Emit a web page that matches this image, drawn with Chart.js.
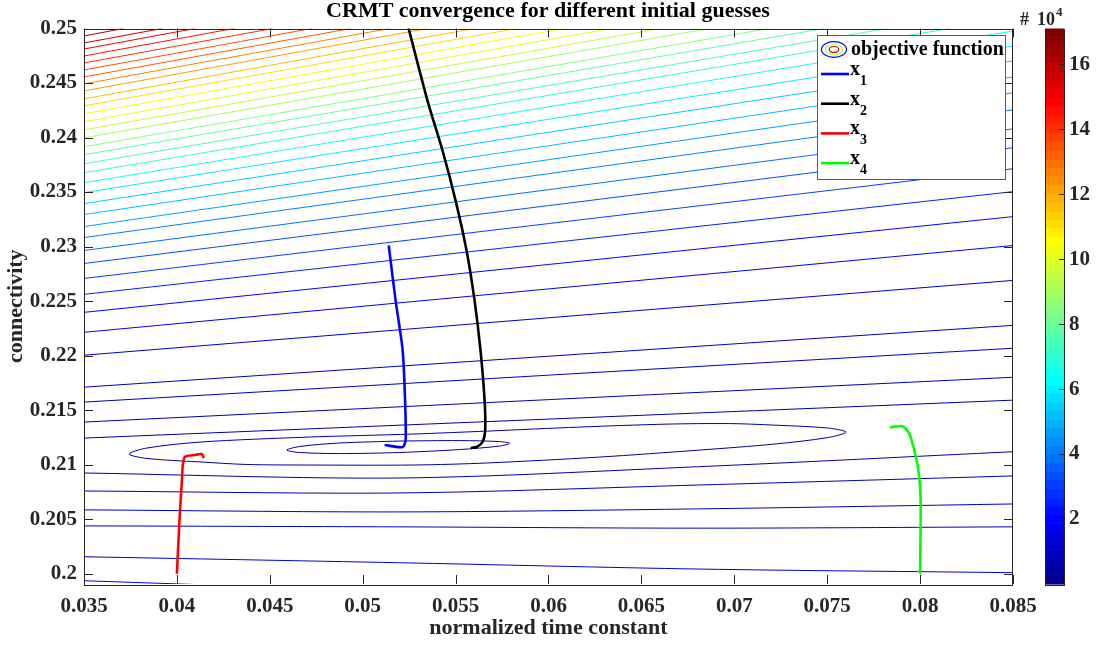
<!DOCTYPE html>
<html><head><meta charset="utf-8">
<script src="https://cdn.jsdelivr.net/npm/chart.js@4/dist/chart.umd.min.js"></script>
<style>html,body{margin:0;padding:0;background:#fff}#wrap{width:1096px;height:647px;position:relative}</style>
</head><body><div id="wrap"><canvas id="c" width="1096" height="647"></canvas></div>
<script>
// ---- axis ticks ----
const xTickVals = [0.035,0.04,0.045,0.05,0.055,0.06,0.065,0.07,0.075,0.08,0.085];
const xTickText = ['0.035','0.04','0.045','0.05','0.055','0.06','0.065','0.07','0.075','0.08','0.085'];
const yTickVals = [0.2,0.205,0.21,0.215,0.22,0.225,0.23,0.235,0.24,0.245,0.25];
const yTickText = ['0.2','0.205','0.21','0.215','0.22','0.225','0.23','0.235','0.24','0.245','0.25'];
const cbTickVals = [20000,40000,60000,80000,100000,120000,140000,160000];
const cbTickText = ['2','4','6','8','10','12','14','16'];
const xRange = [0.035, 0.085];
const yRange = [0.19906, 0.25];
const cRange = [0, 171000];

// ---- contour lines of the objective function (level, x points, y points) ----
const contourLevel = [
  1500, 3000,
  4500, 4500, 6500, 6500, 8500, 8500, 10500, 10500, 13000, 13000, 17000, 17000,
  21000, 26000, 30000, 34000, 38000, 42000, 46000, 51000, 56000, 61000, 65000,
  70000, 75000, 80000, 85000, 90000, 96000, 101000, 106000, 111000, 116000,
  121000, 126000, 131000, 136000, 141000, 146000, 151000, 156000, 161000
];
const contourX = [
  [0.05199,0.05522,0.05737,0.05790,0.05737,0.05522,0.05199,0.04876,0.04661,0.04591,0.04661,0.04876,0.05199],
  [0.05672,0.06167,0.06634,0.06973,0.07215,0.07505,0.07602,0.07505,0.07215,0.06812,0.06274,0.05672,0.05269,0.04704,0.04376,0.04129,0.03839,0.03742,0.03839,0.04129,0.04704,0.05269,0.05672],
  [0.035,0.085], [0.035,0.05199,0.06812,0.085],
  [0.035,0.085], [0.035,0.05199,0.06812,0.085],
  [0.035,0.085], [0.035,0.05199,0.06812,0.085],
  [0.035,0.085], [0.035,0.05199,0.06812,0.085],
  [0.035,0.085], [0.035,0.05199,0.06812,0.085],
  [0.035,0.085], [0.035,0.0412],
  [0.035,0.085],[0.035,0.085],[0.035,0.085],[0.035,0.085],[0.035,0.085],[0.035,0.085],
  [0.035,0.085],[0.035,0.085],[0.035,0.085],[0.035,0.085],[0.035,0.085],
  [0.035,0.08161],[0.035,0.07823],[0.035,0.07484],[0.035,0.07188],[0.035,0.06866],
  [0.035,0.06602],[0.035,0.06339],[0.035,0.06081],[0.035,0.05828],[0.035,0.05602],
  [0.035,0.05349],[0.035,0.05145],[0.035,0.04935],[0.035,0.04726],[0.035,0.04516],
  [0.035,0.04306],[0.035,0.04097],[0.035,0.03919],[0.035,0.03710]
];
const contourY = [
  [0.21217,0.21221,0.21212,0.21196,0.21171,0.21139,0.21112,0.21102,0.21112,0.21134,0.21167,0.21199,0.21217],
  [0.21308,0.21345,0.21372,0.21377,0.21363,0.21336,0.21299,0.21249,0.21189,0.21134,0.21070,0.21016,0.20997,0.20997,0.21002,0.21025,0.21057,0.21098,0.21153,0.21208,0.21253,0.21281,0.21308],
  [0.21244,0.21592], [0.20924,0.20878,0.20982,0.21119],
  [0.21391,0.21802], [0.20759,0.20741,0.20814,0.20897],
  [0.21574,0.22068], [0.20586,0.20567,0.20595,0.20640],
  [0.21711,0.22278], [0.20439,0.20430,0.20418,0.20430],
  [0.22004,0.22690], [0.20156,0.20101,0.20043,0.20010],
  [0.22214,0.23010], [0.19936,0.19900],
  [0.22397,0.23275],[0.22562,0.23504],[0.22708,0.23714],[0.22845,0.23907],[0.22964,0.24080],[0.23083,0.24254],
  [0.23184,0.24410],[0.23294,0.24556],[0.23394,0.24703],[0.23495,0.24840],[0.23586,0.24977],
  [0.23678,0.25],[0.23760,0.25],[0.23843,0.25],[0.23916,0.25],[0.23998,0.25],
  [0.24071,0.25],[0.24145,0.25],[0.24218,0.25],[0.24291,0.25],[0.24355,0.25],
  [0.24428,0.25],[0.24492,0.25],[0.24556,0.25],[0.24620,0.25],[0.24684,0.25],
  [0.24748,0.25],[0.24812,0.25],[0.24867,0.25],[0.24931,0.25]
];

// ---- CRMT trajectories ----
const x1X = [0.05140,0.05177,0.05215,0.05228,0.05231,0.05215,0.05118];
const x1Y = [0.23010,0.22507,0.22049,0.21592,0.21226,0.21162,0.21180];
const x2X = [0.05237,0.05349,0.05430,0.05500,0.05559,0.05602,0.05634,0.05656,0.05659,0.05645,0.05613,0.05581];
const x2Y = [0.25068,0.24337,0.23879,0.23422,0.22964,0.22507,0.22049,0.21592,0.21317,0.21208,0.21162,0.21153];
const x3X = [0.04000,0.04014,0.04027,0.04032,0.04043,0.04097,0.04134,0.04145];
const x3Y = [0.20000,0.20494,0.20860,0.21000,0.21071,0.21089,0.21098,0.21061];
const x4X = [0.08000,0.08003,0.07995,0.07977,0.07941,0.07902,0.07837];
const x4Y = [0.20000,0.20677,0.20890,0.21073,0.21287,0.21354,0.21342];
const seriesNames = ['x1','x2','x3','x4'];
const seriesColors = ['#0000ff','#000000','#ff0000','#00ff00'];

function jetRGB(idx){
  const u = k => (k < 1 || k > 47) ? 0 : (k <= 16 ? k/16 : (k <= 31 ? 1 : (48-k)/16));
  const r = u(idx-24), g = u(idx-8), b = u(idx+8);
  return 'rgb(' + Math.round(r*255) + ',' + Math.round(g*255) + ',' + Math.round(b*255) + ')';
}
function levelColor(v){
  const idx = Math.max(1, Math.min(64, Math.floor((v-cRange[0])/(cRange[1]-cRange[0])*64) + 1));
  return jetRGB(idx);
}
const pts = (xs, ys) => xs.map((v,i) => ({x: v, y: ys[i]}));

const datasets = [];
[[x1X,x1Y],[x2X,x2Y],[x3X,x3Y],[x4X,x4Y]].forEach((s,i) => {
  datasets.push({label: seriesNames[i], data: pts(s[0], s[1]), showLine: true, borderColor: seriesColors[i],
    borderWidth: 2.6, pointRadius: 0, tension: 0.25, order: 0, clip: 0, borderJoinStyle: 'round'});
});
contourLevel.forEach((lv, i) => {
  datasets.push({label: 'objective function', data: pts(contourX[i], contourY[i]), showLine: true,
    borderColor: levelColor(lv), borderWidth: 1, pointRadius: 0,
    tension: contourX[i].length > 2 ? 0.3 : 0, order: 1, clip: 0});
});

const FONT = "'Liberation Serif','Times New Roman',serif";
const AX = '#262626';

const decor = {
  id: 'decor',
  afterDatasetsDraw(chart){
    const {ctx, chartArea: a, scales: {x, y}} = chart;
    ctx.save();
    ctx.strokeStyle = AX; ctx.lineWidth = 1;
    ctx.beginPath();
    xTickVals.forEach(v => { const p = Math.round(x.getPixelForValue(v)) + 0.5;
      ctx.moveTo(p, a.bottom); ctx.lineTo(p, a.bottom - 9); ctx.moveTo(p, a.top); ctx.lineTo(p, a.top + 9); });
    yTickVals.forEach(v => { const p = Math.round(y.getPixelForValue(v)) + 0.5;
      ctx.moveTo(a.left, p); ctx.lineTo(a.left + 9, p); ctx.moveTo(a.right, p); ctx.lineTo(a.right - 9, p); });
    ctx.stroke();
    ctx.strokeRect(Math.round(a.left) + 0.5, Math.round(a.top) + 0.5, Math.round(a.right - a.left) - 1, Math.round(a.bottom - a.top));
    ctx.restore();
  },
  afterDraw(chart){
    const {ctx, chartArea: a, scales: {cb}} = chart;
    ctx.save();
    // colorbar
    const L = 1045, W = 19;
    for (let i = 0; i < 64; i++) {
      const v0 = cRange[0] + (cRange[1]-cRange[0]) * i / 64, v1 = cRange[0] + (cRange[1]-cRange[0]) * (i+1) / 64;
      const yA = cb.getPixelForValue(v0), yB = cb.getPixelForValue(v1);
      ctx.fillStyle = jetRGB(i+1);
      ctx.fillRect(L, yB, W, yA - yB + 0.6);
    }
    ctx.strokeStyle = AX; ctx.lineWidth = 1;
    ctx.strokeRect(L + 0.5, Math.round(a.top) + 0.5, W, Math.round(a.bottom - a.top));
    ctx.beginPath();
    cbTickVals.forEach(v => { const p = Math.round(cb.getPixelForValue(v)) + 0.5; ctx.moveTo(L + W, p); ctx.lineTo(L + W - 5, p); });
    ctx.stroke();
    ctx.fillStyle = AX; ctx.textBaseline = 'alphabetic'; ctx.textAlign = 'left';
    ctx.font = 'bold 18px ' + FONT;
    ctx.fillText('#', 1020, 25);
    ctx.fillText('10', 1037, 25);
    ctx.font = 'bold 13px ' + FONT;
    ctx.fillText('4', 1056, 16);

    // legend
    const bx = 817, by = 35, bw = 188, bh = 144;
    ctx.fillStyle = '#fff'; ctx.fillRect(bx, by, bw, bh);
    ctx.strokeStyle = '#5a5a5a'; ctx.strokeRect(bx + 0.5, by + 0.5, bw, bh);
    const ecx = 834, ecy = 49.5;
    [[12.5, 7.8, jetRGB(8)], [8.5, 5.2, jetRGB(34)], [4.8, 3, jetRGB(60)]].forEach(e => {
      ctx.beginPath(); ctx.strokeStyle = e[2]; ctx.lineWidth = 1.2;
      ctx.ellipse(ecx, ecy, e[0], e[1], 0, 0, Math.PI * 2); ctx.stroke();
    });
    ctx.fillStyle = '#000'; ctx.font = 'bold 20px ' + FONT; ctx.textBaseline = 'middle';
    ctx.fillText('objective function', 851, 50);
    ctx.textBaseline = 'alphabetic';
    seriesNames.forEach((n, i) => {
      const ly = 74 + i * 29.7;
      ctx.strokeStyle = seriesColors[i]; ctx.lineWidth = 2.6;
      ctx.beginPath(); ctx.moveTo(821, ly); ctx.lineTo(849, ly); ctx.stroke();
      ctx.fillStyle = '#000';
      ctx.font = 'bold 20px ' + FONT; ctx.fillText(n.charAt(0), 850, ly + 1);
      ctx.font = 'bold 14px ' + FONT; ctx.fillText(n.slice(1), 860, ly + 11);
    });
    ctx.restore();
  }
};

new Chart(document.getElementById('c'), {
  type: 'scatter',
  data: {datasets},
  options: {
    responsive: false, animation: false, devicePixelRatio: 1,
    layout: {padding: 0},
    plugins: {
      legend: {display: false}, tooltip: {enabled: false},
      title: {display: true, text: 'CRMT convergence for different initial guesses', color: '#000',
        font: {family: FONT, size: 22, weight: 'bold', lineHeight: 1.0}, padding: {top: 0, bottom: 6.5}}
    },
    scales: {
      x: {type: 'linear', position: 'bottom', min: xRange[0], max: xRange[1],
        afterBuildTicks: s => { s.ticks = xTickVals.map(v => ({value: v})); },
        afterFit: s => { s.height = 63; },
        grid: {display: false, drawTicks: false}, border: {display: false},
        ticks: {callback: v => xTickText[xTickVals.indexOf(v)], autoSkip: false, maxRotation: 0, minRotation: 0,
          padding: 10, color: AX, font: {family: FONT, size: 21, weight: 'bold'}},
        title: {display: true, text: 'normalized time constant', color: AX, padding: {top: 0, bottom: 5},
          font: {family: FONT, size: 22, weight: 'bold', lineHeight: 1.2}}},
      y: {type: 'linear', position: 'left', min: yRange[0], max: yRange[1],
        afterBuildTicks: s => { s.ticks = yTickVals.map(v => ({value: v})); },
        afterFit: s => { s.width = 84; },
        grid: {display: false, drawTicks: false}, border: {display: false},
        ticks: {callback: v => yTickText[yTickVals.indexOf(v)], autoSkip: false, padding: 7, color: AX,
          font: {family: FONT, size: 21, weight: 'bold'}},
        title: {display: true, text: 'connectivity', color: AX, padding: {top: 3, bottom: 0},
          font: {family: FONT, size: 22, weight: 'bold', lineHeight: 1.2}}},
      cb: {type: 'linear', position: 'right', min: cRange[0], max: cRange[1],
        afterBuildTicks: s => { s.ticks = cbTickVals.map(v => ({value: v})); },
        afterFit: s => { s.width = 83; },
        grid: {display: true, drawOnChartArea: false, drawTicks: true, tickLength: 54, color: 'rgba(0,0,0,0)'},
        border: {display: false},
        ticks: {callback: v => cbTickText[cbTickVals.indexOf(v)], autoSkip: false, padding: 2, color: AX,
          font: {family: FONT, size: 21, weight: 'bold'}}}
    }
  },
  plugins: [decor]
});
</script></body></html>
